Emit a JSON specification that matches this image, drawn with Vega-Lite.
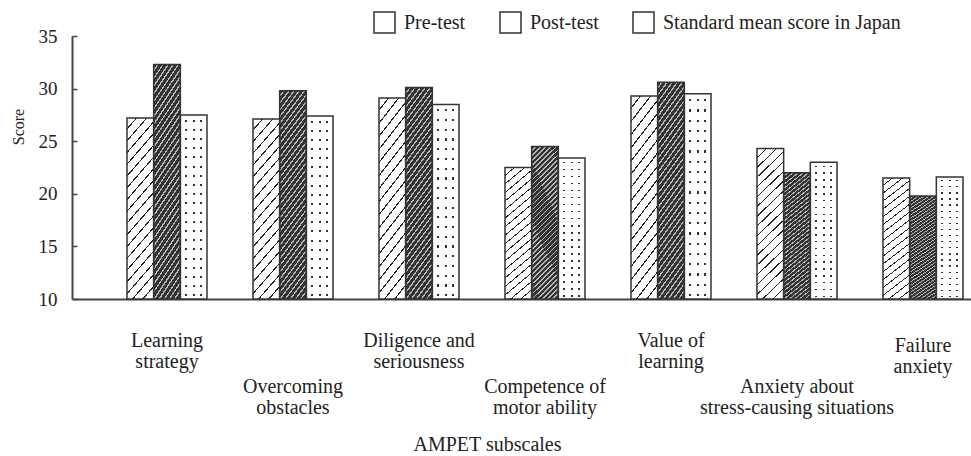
{
  "$schema": "https://vega.github.io/schema/vega-lite/v6.json",
  "width": 899,
  "height": 263,
  "autosize": {"type": "none"},
  "padding": {"left": 72, "top": 36, "right": 0, "bottom": 157},
  "background": "white",
  "config": {
    "view": {"stroke": null},
    "font": "Liberation Serif",
    "axis": {"labelColor": "#222", "titleColor": "#222", "labelFont": "Liberation Serif", "titleFont": "Liberation Serif", "titleFontWeight": "normal", "grid": false}
  },
  "data": {
    "values": [
      {"subscale": "Learning strategy", "series": "Pre-test", "score": 27.2},
      {"subscale": "Learning strategy", "series": "Post-test", "score": 32.3},
      {"subscale": "Learning strategy", "series": "Standard mean score in Japan", "score": 27.5},
      {"subscale": "Overcoming obstacles", "series": "Pre-test", "score": 27.1},
      {"subscale": "Overcoming obstacles", "series": "Post-test", "score": 29.8},
      {"subscale": "Overcoming obstacles", "series": "Standard mean score in Japan", "score": 27.4},
      {"subscale": "Diligence and seriousness", "series": "Pre-test", "score": 29.1},
      {"subscale": "Diligence and seriousness", "series": "Post-test", "score": 30.1},
      {"subscale": "Diligence and seriousness", "series": "Standard mean score in Japan", "score": 28.5},
      {"subscale": "Competence of motor ability", "series": "Pre-test", "score": 22.5},
      {"subscale": "Competence of motor ability", "series": "Post-test", "score": 24.5},
      {"subscale": "Competence of motor ability", "series": "Standard mean score in Japan", "score": 23.4},
      {"subscale": "Value of learning", "series": "Pre-test", "score": 29.3},
      {"subscale": "Value of learning", "series": "Post-test", "score": 30.6},
      {"subscale": "Value of learning", "series": "Standard mean score in Japan", "score": 29.5},
      {"subscale": "Anxiety about stress-causing situations", "series": "Pre-test", "score": 24.3},
      {"subscale": "Anxiety about stress-causing situations", "series": "Post-test", "score": 22.0},
      {"subscale": "Anxiety about stress-causing situations", "series": "Standard mean score in Japan", "score": 23.0},
      {"subscale": "Failure anxiety", "series": "Pre-test", "score": 21.5},
      {"subscale": "Failure anxiety", "series": "Post-test", "score": 19.8},
      {"subscale": "Failure anxiety", "series": "Standard mean score in Japan", "score": 21.6}
    ]
  },
  "encoding": {
    "x": {
      "field": "subscale", "type": "nominal",
      "sort": ["Learning strategy", "Overcoming obstacles", "Diligence and seriousness", "Competence of motor ability", "Value of learning", "Anxiety about stress-causing situations", "Failure anxiety"],
      "scale": {"paddingInner": 0.365, "paddingOuter": 0.25, "align": 0.873},
      "axis": {
        "title": "AMPET subscales", "titleFontSize": 20, "titleX": 415, "titleY": 151, "titleAlign": "center", "titleBaseline": "alphabetic", "titleAnchor": null,
        "labelAngle": 0, "labelFontSize": 20, "labelLineHeight": 21, "labelLimit": 400, "labelOverlap": false, "labelBaseline": "top",
        "labelPadding": {"condition": [
          {"test": "datum.value === 'Overcoming obstacles' || datum.value === 'Competence of motor ability' || datum.value === 'Anxiety about stress-causing situations'", "value": 77},
          {"test": "datum.value === 'Failure anxiety'", "value": 36}
        ], "value": 31},
        "ticks": false, "domainColor": "#444", "domainWidth": 2,
        "labelExpr": "datum.value === 'Learning strategy' ? ['Learning', 'strategy'] : datum.value === 'Overcoming obstacles' ? ['Overcoming', 'obstacles'] : datum.value === 'Diligence and seriousness' ? ['Diligence and', 'seriousness'] : datum.value === 'Competence of motor ability' ? ['Competence of', 'motor ability'] : datum.value === 'Value of learning' ? ['Value of', 'learning'] : datum.value === 'Anxiety about stress-causing situations' ? ['Anxiety about', 'stress-causing situations'] : ['Failure', 'anxiety']"
      }
    },
    "xOffset": {"field": "series", "type": "nominal", "scale": {"domain": ["Pre-test", "Post-test", "Standard mean score in Japan"], "paddingInner": 0, "paddingOuter": 0}},
    "y": {
      "field": "score", "type": "quantitative", "stack": null,
      "scale": {"domain": [10, 35], "zero": false, "nice": false},
      "axis": {
        "title": "Score", "titleFontSize": 16, "titleX": -49, "titleY": 90.5, "titleAlign": "center", "titleBaseline": "alphabetic", "titleAngle": -90, "titleAnchor": null,
        "values": [10, 15, 20, 25, 30, 35], "labelFontSize": 19, "labelPadding": 20,
        "tickSize": -5, "tickColor": "#444", "tickWidth": 1.5, "domainColor": "#444", "domainWidth": 2
      }
    },
    "y2": {"datum": 10}
  },
  "layer": [
    {
      "transform": [{"filter": "datum.series === 'Pre-test'"}],
      "mark": {"type": "bar", "strokeWidth": 0, "fill": {"gradient": "linear", "x1": 0, "y1": 0, "x2": 0.1933, "y2": 1.1372, "stops": [
        {"offset": 0, "color": "#fff"},
        {"offset": 0.0478, "color": "#fff"}, {"offset": 0.0478, "color": "#222"}, {"offset": 0.0556, "color": "#222"}, {"offset": 0.0556, "color": "#fff"},
        {"offset": 0.1033, "color": "#fff"}, {"offset": 0.1033, "color": "#222"}, {"offset": 0.1111, "color": "#222"}, {"offset": 0.1111, "color": "#fff"},
        {"offset": 0.1589, "color": "#fff"}, {"offset": 0.1589, "color": "#222"}, {"offset": 0.1667, "color": "#222"}, {"offset": 0.1667, "color": "#fff"},
        {"offset": 0.2144, "color": "#fff"}, {"offset": 0.2144, "color": "#222"}, {"offset": 0.2222, "color": "#222"}, {"offset": 0.2222, "color": "#fff"},
        {"offset": 0.2700, "color": "#fff"}, {"offset": 0.2700, "color": "#222"}, {"offset": 0.2778, "color": "#222"}, {"offset": 0.2778, "color": "#fff"},
        {"offset": 0.3256, "color": "#fff"}, {"offset": 0.3256, "color": "#222"}, {"offset": 0.3333, "color": "#222"}, {"offset": 0.3333, "color": "#fff"},
        {"offset": 0.3811, "color": "#fff"}, {"offset": 0.3811, "color": "#222"}, {"offset": 0.3889, "color": "#222"}, {"offset": 0.3889, "color": "#fff"},
        {"offset": 0.4367, "color": "#fff"}, {"offset": 0.4367, "color": "#222"}, {"offset": 0.4444, "color": "#222"}, {"offset": 0.4444, "color": "#fff"},
        {"offset": 0.4922, "color": "#fff"}, {"offset": 0.4922, "color": "#222"}, {"offset": 0.5000, "color": "#222"}, {"offset": 0.5000, "color": "#fff"},
        {"offset": 0.5478, "color": "#fff"}, {"offset": 0.5478, "color": "#222"}, {"offset": 0.5556, "color": "#222"}, {"offset": 0.5556, "color": "#fff"},
        {"offset": 0.6033, "color": "#fff"}, {"offset": 0.6033, "color": "#222"}, {"offset": 0.6111, "color": "#222"}, {"offset": 0.6111, "color": "#fff"},
        {"offset": 0.6589, "color": "#fff"}, {"offset": 0.6589, "color": "#222"}, {"offset": 0.6667, "color": "#222"}, {"offset": 0.6667, "color": "#fff"},
        {"offset": 0.7144, "color": "#fff"}, {"offset": 0.7144, "color": "#222"}, {"offset": 0.7222, "color": "#222"}, {"offset": 0.7222, "color": "#fff"},
        {"offset": 0.7700, "color": "#fff"}, {"offset": 0.7700, "color": "#222"}, {"offset": 0.7778, "color": "#222"}, {"offset": 0.7778, "color": "#fff"},
        {"offset": 0.8256, "color": "#fff"}, {"offset": 0.8256, "color": "#222"}, {"offset": 0.8333, "color": "#222"}, {"offset": 0.8333, "color": "#fff"},
        {"offset": 0.8811, "color": "#fff"}, {"offset": 0.8811, "color": "#222"}, {"offset": 0.8889, "color": "#222"}, {"offset": 0.8889, "color": "#fff"},
        {"offset": 0.9367, "color": "#fff"}, {"offset": 0.9367, "color": "#222"}, {"offset": 0.9444, "color": "#222"}, {"offset": 0.9444, "color": "#fff"},
        {"offset": 1, "color": "#fff"}
      ]}}
    },
    {
      "transform": [{"filter": "datum.series === 'Post-test'"}],
      "mark": {"type": "bar", "strokeWidth": 0, "fill": {"gradient": "linear", "x1": 0, "y1": 0, "x2": 0.1933, "y2": 1.1372, "stops": [
        {"offset": 0, "color": "#333"},
        {"offset": 0.0194, "color": "#333"}, {"offset": 0.0194, "color": "#bbb"}, {"offset": 0.0278, "color": "#bbb"}, {"offset": 0.0278, "color": "#333"},
        {"offset": 0.0472, "color": "#333"}, {"offset": 0.0472, "color": "#bbb"}, {"offset": 0.0556, "color": "#bbb"}, {"offset": 0.0556, "color": "#333"},
        {"offset": 0.0750, "color": "#333"}, {"offset": 0.0750, "color": "#bbb"}, {"offset": 0.0833, "color": "#bbb"}, {"offset": 0.0833, "color": "#333"},
        {"offset": 0.1028, "color": "#333"}, {"offset": 0.1028, "color": "#bbb"}, {"offset": 0.1111, "color": "#bbb"}, {"offset": 0.1111, "color": "#333"},
        {"offset": 0.1306, "color": "#333"}, {"offset": 0.1306, "color": "#bbb"}, {"offset": 0.1389, "color": "#bbb"}, {"offset": 0.1389, "color": "#333"},
        {"offset": 0.1583, "color": "#333"}, {"offset": 0.1583, "color": "#bbb"}, {"offset": 0.1667, "color": "#bbb"}, {"offset": 0.1667, "color": "#333"},
        {"offset": 0.1861, "color": "#333"}, {"offset": 0.1861, "color": "#bbb"}, {"offset": 0.1944, "color": "#bbb"}, {"offset": 0.1944, "color": "#333"},
        {"offset": 0.2139, "color": "#333"}, {"offset": 0.2139, "color": "#bbb"}, {"offset": 0.2222, "color": "#bbb"}, {"offset": 0.2222, "color": "#333"},
        {"offset": 0.2417, "color": "#333"}, {"offset": 0.2417, "color": "#bbb"}, {"offset": 0.2500, "color": "#bbb"}, {"offset": 0.2500, "color": "#333"},
        {"offset": 0.2694, "color": "#333"}, {"offset": 0.2694, "color": "#bbb"}, {"offset": 0.2778, "color": "#bbb"}, {"offset": 0.2778, "color": "#333"},
        {"offset": 0.2972, "color": "#333"}, {"offset": 0.2972, "color": "#bbb"}, {"offset": 0.3056, "color": "#bbb"}, {"offset": 0.3056, "color": "#333"},
        {"offset": 0.3250, "color": "#333"}, {"offset": 0.3250, "color": "#bbb"}, {"offset": 0.3333, "color": "#bbb"}, {"offset": 0.3333, "color": "#333"},
        {"offset": 0.3528, "color": "#333"}, {"offset": 0.3528, "color": "#bbb"}, {"offset": 0.3611, "color": "#bbb"}, {"offset": 0.3611, "color": "#333"},
        {"offset": 0.3806, "color": "#333"}, {"offset": 0.3806, "color": "#bbb"}, {"offset": 0.3889, "color": "#bbb"}, {"offset": 0.3889, "color": "#333"},
        {"offset": 0.4083, "color": "#333"}, {"offset": 0.4083, "color": "#bbb"}, {"offset": 0.4167, "color": "#bbb"}, {"offset": 0.4167, "color": "#333"},
        {"offset": 0.4361, "color": "#333"}, {"offset": 0.4361, "color": "#bbb"}, {"offset": 0.4444, "color": "#bbb"}, {"offset": 0.4444, "color": "#333"},
        {"offset": 0.4639, "color": "#333"}, {"offset": 0.4639, "color": "#bbb"}, {"offset": 0.4722, "color": "#bbb"}, {"offset": 0.4722, "color": "#333"},
        {"offset": 0.4917, "color": "#333"}, {"offset": 0.4917, "color": "#bbb"}, {"offset": 0.5000, "color": "#bbb"}, {"offset": 0.5000, "color": "#333"},
        {"offset": 0.5194, "color": "#333"}, {"offset": 0.5194, "color": "#bbb"}, {"offset": 0.5278, "color": "#bbb"}, {"offset": 0.5278, "color": "#333"},
        {"offset": 0.5472, "color": "#333"}, {"offset": 0.5472, "color": "#bbb"}, {"offset": 0.5556, "color": "#bbb"}, {"offset": 0.5556, "color": "#333"},
        {"offset": 0.5750, "color": "#333"}, {"offset": 0.5750, "color": "#bbb"}, {"offset": 0.5833, "color": "#bbb"}, {"offset": 0.5833, "color": "#333"},
        {"offset": 0.6028, "color": "#333"}, {"offset": 0.6028, "color": "#bbb"}, {"offset": 0.6111, "color": "#bbb"}, {"offset": 0.6111, "color": "#333"},
        {"offset": 0.6306, "color": "#333"}, {"offset": 0.6306, "color": "#bbb"}, {"offset": 0.6389, "color": "#bbb"}, {"offset": 0.6389, "color": "#333"},
        {"offset": 0.6583, "color": "#333"}, {"offset": 0.6583, "color": "#bbb"}, {"offset": 0.6667, "color": "#bbb"}, {"offset": 0.6667, "color": "#333"},
        {"offset": 0.6861, "color": "#333"}, {"offset": 0.6861, "color": "#bbb"}, {"offset": 0.6944, "color": "#bbb"}, {"offset": 0.6944, "color": "#333"},
        {"offset": 0.7139, "color": "#333"}, {"offset": 0.7139, "color": "#bbb"}, {"offset": 0.7222, "color": "#bbb"}, {"offset": 0.7222, "color": "#333"},
        {"offset": 0.7417, "color": "#333"}, {"offset": 0.7417, "color": "#bbb"}, {"offset": 0.7500, "color": "#bbb"}, {"offset": 0.7500, "color": "#333"},
        {"offset": 0.7694, "color": "#333"}, {"offset": 0.7694, "color": "#bbb"}, {"offset": 0.7778, "color": "#bbb"}, {"offset": 0.7778, "color": "#333"},
        {"offset": 0.7972, "color": "#333"}, {"offset": 0.7972, "color": "#bbb"}, {"offset": 0.8056, "color": "#bbb"}, {"offset": 0.8056, "color": "#333"},
        {"offset": 0.8250, "color": "#333"}, {"offset": 0.8250, "color": "#bbb"}, {"offset": 0.8333, "color": "#bbb"}, {"offset": 0.8333, "color": "#333"},
        {"offset": 0.8528, "color": "#333"}, {"offset": 0.8528, "color": "#bbb"}, {"offset": 0.8611, "color": "#bbb"}, {"offset": 0.8611, "color": "#333"},
        {"offset": 0.8806, "color": "#333"}, {"offset": 0.8806, "color": "#bbb"}, {"offset": 0.8889, "color": "#bbb"}, {"offset": 0.8889, "color": "#333"},
        {"offset": 0.9083, "color": "#333"}, {"offset": 0.9083, "color": "#bbb"}, {"offset": 0.9167, "color": "#bbb"}, {"offset": 0.9167, "color": "#333"},
        {"offset": 0.9361, "color": "#333"}, {"offset": 0.9361, "color": "#bbb"}, {"offset": 0.9444, "color": "#bbb"}, {"offset": 0.9444, "color": "#333"},
        {"offset": 0.9639, "color": "#333"}, {"offset": 0.9639, "color": "#bbb"}, {"offset": 0.9722, "color": "#bbb"}, {"offset": 0.9722, "color": "#333"},
        {"offset": 1, "color": "#333"}
      ]}}
    },
    {
      "transform": [{"filter": "datum.series === 'Standard mean score in Japan'"}],
      "mark": {"type": "bar", "strokeWidth": 0, "fill": {"gradient": "linear", "x1": 0, "y1": 0, "x2": 0, "y2": 1, "stops": [
        {"offset": 0, "color": "#fff"},
        {"offset": 0.025, "color": "#fff"}, {"offset": 0.025, "color": "#333"}, {"offset": 0.036, "color": "#333"}, {"offset": 0.036, "color": "#fff"},
        {"offset": 0.075, "color": "#fff"}, {"offset": 0.075, "color": "#333"}, {"offset": 0.086, "color": "#333"}, {"offset": 0.086, "color": "#fff"},
        {"offset": 0.125, "color": "#fff"}, {"offset": 0.125, "color": "#333"}, {"offset": 0.136, "color": "#333"}, {"offset": 0.136, "color": "#fff"},
        {"offset": 0.175, "color": "#fff"}, {"offset": 0.175, "color": "#333"}, {"offset": 0.186, "color": "#333"}, {"offset": 0.186, "color": "#fff"},
        {"offset": 0.225, "color": "#fff"}, {"offset": 0.225, "color": "#333"}, {"offset": 0.236, "color": "#333"}, {"offset": 0.236, "color": "#fff"},
        {"offset": 0.275, "color": "#fff"}, {"offset": 0.275, "color": "#333"}, {"offset": 0.286, "color": "#333"}, {"offset": 0.286, "color": "#fff"},
        {"offset": 0.325, "color": "#fff"}, {"offset": 0.325, "color": "#333"}, {"offset": 0.336, "color": "#333"}, {"offset": 0.336, "color": "#fff"},
        {"offset": 0.375, "color": "#fff"}, {"offset": 0.375, "color": "#333"}, {"offset": 0.386, "color": "#333"}, {"offset": 0.386, "color": "#fff"},
        {"offset": 0.425, "color": "#fff"}, {"offset": 0.425, "color": "#333"}, {"offset": 0.436, "color": "#333"}, {"offset": 0.436, "color": "#fff"},
        {"offset": 0.475, "color": "#fff"}, {"offset": 0.475, "color": "#333"}, {"offset": 0.486, "color": "#333"}, {"offset": 0.486, "color": "#fff"},
        {"offset": 0.525, "color": "#fff"}, {"offset": 0.525, "color": "#333"}, {"offset": 0.536, "color": "#333"}, {"offset": 0.536, "color": "#fff"},
        {"offset": 0.575, "color": "#fff"}, {"offset": 0.575, "color": "#333"}, {"offset": 0.586, "color": "#333"}, {"offset": 0.586, "color": "#fff"},
        {"offset": 0.625, "color": "#fff"}, {"offset": 0.625, "color": "#333"}, {"offset": 0.636, "color": "#333"}, {"offset": 0.636, "color": "#fff"},
        {"offset": 0.675, "color": "#fff"}, {"offset": 0.675, "color": "#333"}, {"offset": 0.686, "color": "#333"}, {"offset": 0.686, "color": "#fff"},
        {"offset": 0.725, "color": "#fff"}, {"offset": 0.725, "color": "#333"}, {"offset": 0.736, "color": "#333"}, {"offset": 0.736, "color": "#fff"},
        {"offset": 0.775, "color": "#fff"}, {"offset": 0.775, "color": "#333"}, {"offset": 0.786, "color": "#333"}, {"offset": 0.786, "color": "#fff"},
        {"offset": 0.825, "color": "#fff"}, {"offset": 0.825, "color": "#333"}, {"offset": 0.836, "color": "#333"}, {"offset": 0.836, "color": "#fff"},
        {"offset": 0.875, "color": "#fff"}, {"offset": 0.875, "color": "#333"}, {"offset": 0.886, "color": "#333"}, {"offset": 0.886, "color": "#fff"},
        {"offset": 0.925, "color": "#fff"}, {"offset": 0.925, "color": "#333"}, {"offset": 0.936, "color": "#333"}, {"offset": 0.936, "color": "#fff"},
        {"offset": 0.975, "color": "#fff"}, {"offset": 0.975, "color": "#333"}, {"offset": 0.986, "color": "#333"}, {"offset": 0.986, "color": "#fff"},
        {"offset": 1, "color": "#fff"}
      ]}}
    },
    {
      "transform": [{"filter": "datum.series === 'Standard mean score in Japan'"}],
      "mark": {"type": "bar", "strokeWidth": 0, "fill": {"gradient": "linear", "x1": 0, "y1": 0, "x2": 1, "y2": 0, "stops": [
        {"offset": 0, "color": "#fff"}, {"offset": 0.18, "color": "#fff"}, {"offset": 0.18, "color": "rgba(255,255,255,0)"}, {"offset": 0.26, "color": "rgba(255,255,255,0)"}, {"offset": 0.26, "color": "#fff"},
        {"offset": 0.46, "color": "#fff"}, {"offset": 0.46, "color": "rgba(255,255,255,0)"}, {"offset": 0.54, "color": "rgba(255,255,255,0)"}, {"offset": 0.54, "color": "#fff"},
        {"offset": 0.74, "color": "#fff"}, {"offset": 0.74, "color": "rgba(255,255,255,0)"}, {"offset": 0.82, "color": "rgba(255,255,255,0)"}, {"offset": 0.82, "color": "#fff"},
        {"offset": 1, "color": "#fff"}
      ]}}
    },
    {
      "mark": {"type": "bar", "fill": "transparent", "stroke": "#333", "strokeWidth": 1.5}
    },
    {
      "transform": [{"filter": "false"}],
      "mark": {"type": "line", "strokeWidth": 1.5},
      "encoding": {
        "y2": null,
        "stroke": {
          "field": "series", "type": "nominal",
          "scale": {"domain": ["Pre-test", "Post-test", "Standard mean score in Japan"], "range": ["#333", "#333", "#333"]},
          "legend": {
            "title": null, "orient": "none", "legendX": 301, "legendY": -25, "direction": "horizontal", "columns": 3,
            "symbolType": "square", "symbolSize": 441, "symbolStrokeWidth": 1.5, "symbolStrokeColor": "#333", "symbolOpacity": 1,
            "labelFont": "Liberation Serif", "labelFontSize": 20, "labelColor": "#222", "labelOffset": 8, "labelLimit": 400,
            "columnPadding": 31, "padding": 0,
            "encode": {
              "symbols": {
                "update": {
                  "fill": {
                    "value": {"expr": "(datum.value === 'Pre-test' || datum.label === 'Pre-test') ? {gradient: 'linear', x1: 0, y1: 0, x2: 1, y2: 1, stops: [{offset: 0, color: '#fff'}, {offset: 0.47, color: '#fff'}, {offset: 0.47, color: '#222'}, {offset: 0.53, color: '#222'}, {offset: 0.53, color: '#fff'}, {offset: 0.9, color: '#fff'}, {offset: 0.9, color: '#222'}, {offset: 0.95, color: '#222'}, {offset: 0.95, color: '#fff'}, {offset: 1, color: '#fff'}]} : (datum.value === 'Post-test' || datum.label === 'Post-test') ? {gradient: 'linear', x1: 0, y1: 0, x2: 1, y2: 1, stops: [{offset: 0, color: '#333'}, {offset: 0.1, color: '#333'}, {offset: 0.1, color: '#bbb'}, {offset: 0.1429, color: '#bbb'}, {offset: 0.1429, color: '#333'}, {offset: 0.2429, color: '#333'}, {offset: 0.2429, color: '#bbb'}, {offset: 0.2857, color: '#bbb'}, {offset: 0.2857, color: '#333'}, {offset: 0.3857, color: '#333'}, {offset: 0.3857, color: '#bbb'}, {offset: 0.4286, color: '#bbb'}, {offset: 0.4286, color: '#333'}, {offset: 0.5286, color: '#333'}, {offset: 0.5286, color: '#bbb'}, {offset: 0.5714, color: '#bbb'}, {offset: 0.5714, color: '#333'}, {offset: 0.6714, color: '#333'}, {offset: 0.6714, color: '#bbb'}, {offset: 0.7143, color: '#bbb'}, {offset: 0.7143, color: '#333'}, {offset: 0.8143, color: '#333'}, {offset: 0.8143, color: '#bbb'}, {offset: 0.8571, color: '#bbb'}, {offset: 0.8571, color: '#333'}, {offset: 1, color: '#333'}]} : '#f4f4f4'"}
                  }
                }
              }
            }
          }
        }
      }
    }
  ]
}
